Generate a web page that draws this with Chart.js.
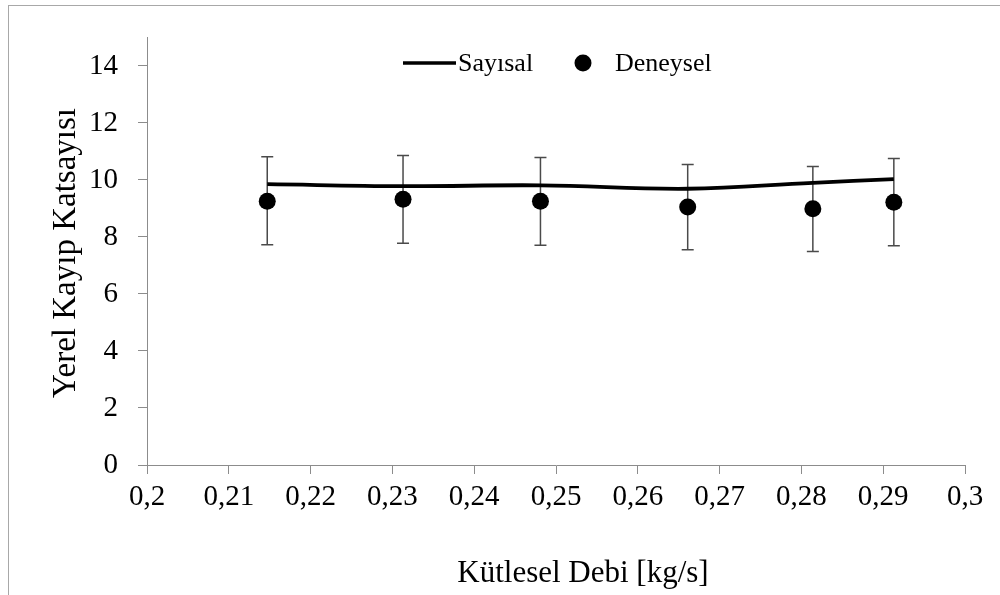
<!DOCTYPE html>
<html>
<head>
<meta charset="utf-8">
<script src="https://cdn.jsdelivr.net/npm/chart.js@4.4.0/dist/chart.umd.min.js"></script>
<style>
    html, body { margin: 0; padding: 0; background: #fff; }
    #frame { position: absolute; left: 8px; top: 5px; width: 992px; height: 590px;
             border-left: 1.5px solid #a8a8a8; border-top: 1.5px solid #a8a8a8; }
    #wrap { position: absolute; left: 0; top: 0; width: 1000px; height: 595px; }
</style>
</head>
<body>
<div id="frame"></div>
<div id="wrap"><canvas id="lossChart"></canvas></div>
<script>
// Values
const massFlow = [0.2147, 0.2313, 0.2481, 0.2661, 0.2814, 0.2913];
const numerical = [9.85, 9.78, 9.81, 9.69, 9.90, 10.03];
const experimental = [9.25, 9.32, 9.25, 9.05, 8.99, 9.22];
const errUpper = [10.81, 10.86, 10.79, 10.54, 10.47, 10.75];
const errLower = [7.73, 7.78, 7.71, 7.55, 7.49, 7.69];

const xTickValues = [0.2, 0.21, 0.22, 0.23, 0.24, 0.25, 0.26, 0.27, 0.28, 0.29, 0.3];
const xTickLabels = ['0,2', '0,21', '0,22', '0,23', '0,24', '0,25', '0,26', '0,27', '0,28', '0,29', '0,3'];
const yTickValues = [0, 2, 4, 6, 8, 10, 12, 14];

const seriesNames = ['Sayısal', 'Deneysel'];
const xTitle = 'Kütlesel Debi [kg/s]';
const yTitle = 'Yerel Kayıp Katsayısı';

const serif = '"Liberation Serif", "Times New Roman", serif';
const axisGray = '#8c8c8c';

// Error bars for the experimental points
const errorBars = {
    id: 'errorBars',
    beforeDatasetsDraw(chart) {
        const { ctx, scales: { x, y } } = chart;
        ctx.save();
        ctx.strokeStyle = '#4a4a4a';
        ctx.lineWidth = 1.5;
        massFlow.forEach((m, i) => {
            const px = x.getPixelForValue(m);
            const top = y.getPixelForValue(errUpper[i]);
            const bot = y.getPixelForValue(errLower[i]);
            ctx.beginPath();
            ctx.moveTo(px, top); ctx.lineTo(px, bot);
            ctx.moveTo(px - 6, top); ctx.lineTo(px + 6, top);
            ctx.moveTo(px - 6, bot); ctx.lineTo(px + 6, bot);
            ctx.stroke();
        });
        ctx.restore();
    }
};

// Legend inside the plot and the axis titles
const labels = {
    id: 'labels',
    afterDraw(chart) {
        const { ctx } = chart;
        ctx.save();
        ctx.fillStyle = '#000';
        ctx.strokeStyle = '#000';

        // legend
        ctx.font = '26px ' + serif;
        ctx.textBaseline = 'middle';
        ctx.textAlign = 'left';
        ctx.lineWidth = 3.5;
        ctx.beginPath();
        ctx.moveTo(403, 63); ctx.lineTo(456, 63);
        ctx.stroke();
        ctx.fillText(seriesNames[0], 458, 64);
        ctx.beginPath();
        ctx.arc(583, 63, 8.5, 0, Math.PI * 2);
        ctx.fill();
        ctx.fillText(seriesNames[1], 615, 64);

        // axis titles
        ctx.font = '31px ' + serif;
        ctx.textAlign = 'center';
        ctx.fillText(xTitle, 583, 574);
        ctx.font = '33px ' + serif;
        ctx.translate(66, 253);
        ctx.rotate(-Math.PI / 2);
        ctx.fillText(yTitle, 0, 0);
        ctx.restore();
    }
};

function initChart() {
    const ctx = document.getElementById('lossChart').getContext('2d');
    new Chart(ctx, {
        type: 'scatter',
        data: {
            datasets: [{
                label: seriesNames[0],
                type: 'line',
                data: massFlow.map((m, i) => ({ x: m, y: numerical[i] })),
                borderColor: '#000',
                borderWidth: 3.8,
                pointRadius: 0,
                tension: 0.4,
                fill: false
            }, {
                label: seriesNames[1],
                data: massFlow.map((m, i) => ({ x: m, y: experimental[i] })),
                backgroundColor: '#000',
                borderColor: '#000',
                borderWidth: 0,
                pointRadius: 8.5,
                pointHoverRadius: 8.5
            }]
        },
        options: {
            responsive: true,
            maintainAspectRatio: false,
            animation: false,
            events: [],
            layout: { padding: { top: 34, right: 35, left: 0, bottom: 0 } },
            plugins: {
                legend: { display: false },
                tooltip: { enabled: false }
            },
            scales: {
                x: {
                    type: 'linear',
                    min: 0.2,
                    max: 0.3,
                    afterBuildTicks: scale => { scale.ticks = xTickValues.map(v => ({ value: v })); },
                    afterFit: scale => { scale.height = 130; },
                    ticks: {
                        autoSkip: false,
                        maxRotation: 0,
                        padding: 6,
                        color: '#000',
                        font: { family: serif, size: 29 },
                        callback: (v, i) => xTickLabels[i]
                    },
                    grid: { drawOnChartArea: false, drawTicks: true, tickLength: 9, color: axisGray, lineWidth: 1 },
                    border: { display: true, color: axisGray, width: 1 }
                },
                y: {
                    type: 'linear',
                    min: 0,
                    max: 15,
                    afterBuildTicks: scale => { scale.ticks = yTickValues.map(v => ({ value: v })); },
                    afterFit: scale => { scale.width = 147; },
                    ticks: {
                        padding: 20,
                        color: '#000',
                        font: { family: serif, size: 29 },
                        callback: v => String(v)
                    },
                    grid: { drawOnChartArea: false, drawTicks: true, tickLength: 9, color: axisGray, lineWidth: 1 },
                    border: { display: true, color: axisGray, width: 1 }
                }
            }
        },
        plugins: [errorBars, labels]
    });
}

document.addEventListener('DOMContentLoaded', initChart);
</script>
</body>
</html>
